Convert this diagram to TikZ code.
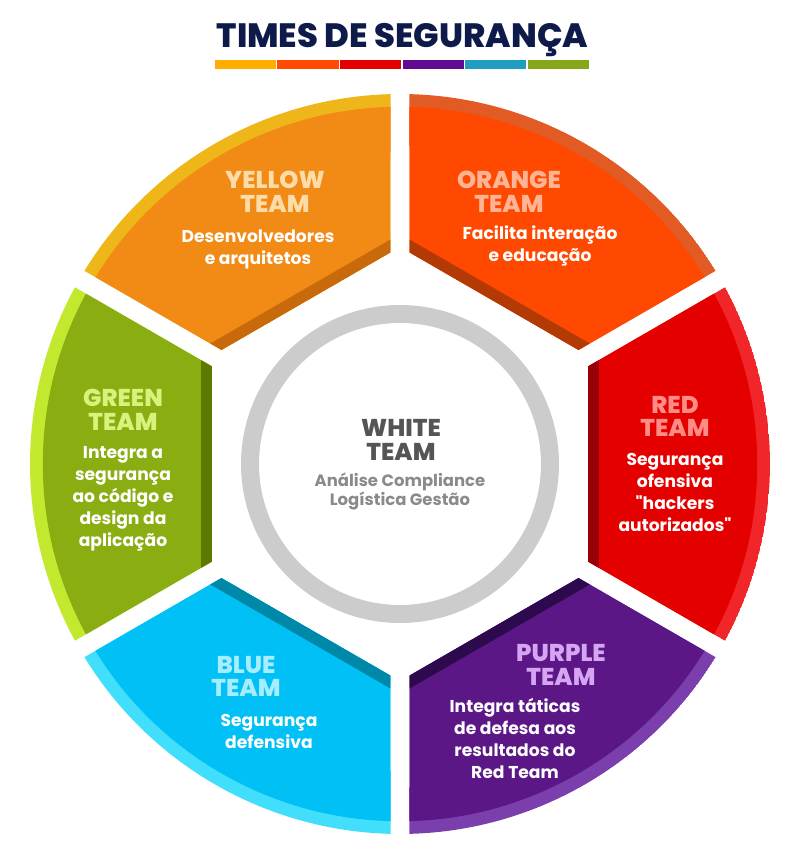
\documentclass[tikz,border=0pt]{standalone}
\usepackage{fontspec}
\setmainfont{Poppins}[Ligatures=TeXOff]
\newfontfamily\heavyfont{Poppins}[UprightFont=* ExtraBold]
\definecolor{navy}{HTML}{0E1B4A}
\definecolor{baryellow}{HTML}{FFAE00}
\definecolor{barorange}{HTML}{FF4A00}
\definecolor{barred}{HTML}{E50000}
\definecolor{barpurple}{HTML}{5F0A90}
\definecolor{barblue}{HTML}{1E9FC2}
\definecolor{bargreen}{HTML}{86A71A}
\definecolor{yellowmain}{HTML}{F28A16}
\definecolor{yellowrim}{HTML}{EFB61A}
\definecolor{yellowdark}{HTML}{C86A0C}
\definecolor{yellowname}{HTML}{FDDCA8}
\definecolor{orangemain}{HTML}{FF4800}
\definecolor{orangerim}{HTML}{E25B24}
\definecolor{orangedark}{HTML}{B33A05}
\definecolor{orangename}{HTML}{FFB595}
\definecolor{redmain}{HTML}{E50000}
\definecolor{redrim}{HTML}{F1262B}
\definecolor{reddark}{HTML}{980008}
\definecolor{redname}{HTML}{FF8C86}
\definecolor{purplemain}{HTML}{5B1786}
\definecolor{purplerim}{HTML}{7A3FAD}
\definecolor{purpledark}{HTML}{2D0A4D}
\definecolor{purplename}{HTML}{D5A5F2}
\definecolor{bluemain}{HTML}{00C0F5}
\definecolor{bluerim}{HTML}{41DFFB}
\definecolor{bluedark}{HTML}{0088A8}
\definecolor{bluename}{HTML}{A5EDFF}
\definecolor{greenmain}{HTML}{8AAE12}
\definecolor{greenrim}{HTML}{C3E92F}
\definecolor{greendark}{HTML}{5C7A00}
\definecolor{greenname}{HTML}{D8F27C}
\definecolor{ringgray}{HTML}{CCCCCC}
\definecolor{whitename}{HTML}{555555}
\definecolor{whitetext}{HTML}{8A8A8A}
\begin{document}
\begin{tikzpicture}[inner sep=0pt,outer sep=0pt,
teamname/.style={align=center,font=\fontsize{17.3}{17}\selectfont\heavyfont},
teamtext/.style={align=center,text=white,font=\fontsize{12.2}{15.6}\selectfont\bfseries}]
\useasboundingbox (-10,-10.025) rectangle (10,11.6);
% title and colour bar
\draw (0.06,10.4) node[anchor=base,text=navy,font=\fontsize{24}{24}\selectfont\heavyfont] (title) {TIMES DE SEGURANÇA};
\foreach \c [count=\i] in {baryellow,barorange,barred,barpurple,barblue,bargreen}
  \fill[\c] ({-4.625+(\i-1)*1.5625},9.875) rectangle ++(1.53,0.225);
% the six segments
\foreach \a/\rim/\main/\dark in {120/yellowrim/yellowmain/yellowdark,60/orangerim/orangemain/orangedark,
  0/redrim/redmain/reddark,-60/purplerim/purplemain/purpledark,
  -120/bluerim/bluemain/bluedark,180/greenrim/greenmain/greendark}{
  \begin{scope}[rotate=\a]
  \clip (4.7,-2.439) -- (-28.53:9.25) arc[start angle=-28.53,end angle=28.53,radius=9.25] -- (4.7,2.439) -- cycle;
  \fill[\rim] (0,0) circle (9.25);
  \fill[\main] (0,0) circle (8.93);
  \fill[\dark] (4.7,-3) rectangle (4.98,3);
  \end{scope}
}
% white team
\draw[ringgray,line width=0.45cm] (0,0) circle (3.75);
\draw (0.025,0.61) node[teamname,text=whitename] (whitename) {WHITE\\TEAM};
\draw (0,-0.69) node[align=center,text=whitetext,font=\fontsize{11.7}{10.6}\selectfont\bfseries] (whitetext) {Análise Compliance\\Logística Gestão};
% team labels
\draw (-3.125,6.8) node[teamname,text=yellowname] (yellowname) {YELLOW\\TEAM};
\draw (-3.55,5.375) node[teamtext] (yellowtext) {Desenvolvedores\\e arquitetos};
\draw (2.725,6.8) node[teamname,text=orangename] (orangename) {ORANGE\\TEAM};
\draw (3.5,5.45) node[teamtext] (orangetext) {Facilita interação\\e educação};
\draw (6.875,1.19) node[teamname,text=redname] (redname) {RED\\TEAM};
\draw (6.875,-0.71) node[teamtext] (redtext) {Segurança\\ofensiva\\"hackers\\autorizados"};
\draw (4.025,-5.025) node[teamname,text=purplename] (purplename) {PURPLE\\TEAM};
\draw (2.875,-6.86) node[teamtext] (purpletext) {Integra táticas\\de defesa aos\\resultados do\\Red Team};
\draw (-3.85,-5.31) node[teamname,text=bluename] (bluename) {BLUE\\TEAM};
\draw (-3.275,-6.675) node[teamtext] (bluetext) {Segurança\\defensiva};
\draw (-6.925,1.35) node[teamname,text=greenname] (greenname) {GREEN\\TEAM};
\draw (-6.925,-0.875) node[teamtext] (greentext) {Integra a\\segurança\\ao código e\\design da\\aplicação};
\end{tikzpicture}
\end{document}
